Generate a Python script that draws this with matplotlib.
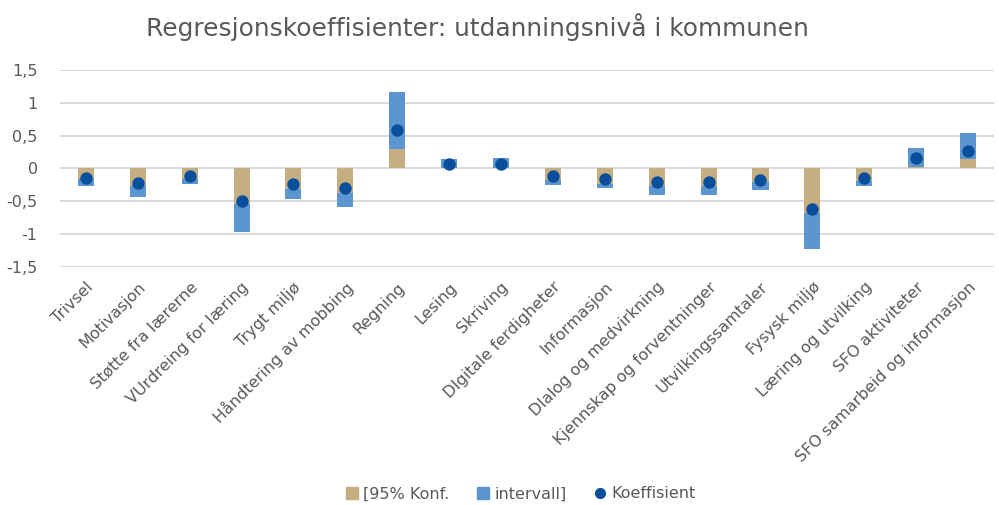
import matplotlib
matplotlib.use("Agg")
import matplotlib.pyplot as plt
import numpy as np
from matplotlib.lines import Line2D
from matplotlib.patches import Patch

categories = ["Trivsel", "Motivasjon", "Støtte fra lærerne", "VUrdreing for læring",
              "Trygt miljø", "Håndtering av mobbing", "Regning", "Lesing", "Skriving",
              "DIgitale ferdigheter", "Informasjon", "DIalog og medvirkning",
              "Kjennskap og forventninger", "Utvilkingssamtaler", "Fysysk miljø",
              "Læring og utvilking", "SFO aktiviteter", "SFO samarbeid og informasjon"]
# stacked as in the source chart: tan = first value, blue stacked on top
konf_lower = [-0.16, -0.27, -0.16, -0.54, -0.315, -0.366, 0.29, 0.01, 0.01,
              -0.17, -0.23, -0.265, -0.265, -0.20, -0.68, -0.19, 0.02, 0.137]
konf_upper = [-0.10, -0.17, -0.07, -0.43, -0.155, -0.224, 0.875, 0.127, 0.148,
              -0.074, -0.065, -0.132, -0.132, -0.13, -0.55, -0.07, 0.29, 0.40]
koeffisient = [-0.14, -0.22, -0.12, -0.49, -0.24, -0.29, 0.58, 0.07, 0.07,
               -0.12, -0.155, -0.21, -0.21, -0.17, -0.61, -0.14, 0.155, 0.265]
yticks = [-1.5, -1, -0.5, 0, 0.5, 1, 1.5]
ytick_labels = ["-1,5", "-1", "-0,5", "0", "0,5", "1", "1,5"]

TAN = "#c6ae83"
BLUE = "#5b96d0"
DOT = "#0a4f9c"
GREY = "#595959"
FONT = "DejaVu Sans"

fig = plt.figure(figsize=(9.99, 5.05), dpi=100)
ax = fig.add_axes([0.060, 0.4713, 0.935, 0.3901])

x = np.arange(len(categories))
ax.bar(x, konf_lower, width=0.31, color=TAN, zorder=2)
ax.bar(x, konf_upper, width=0.31, bottom=konf_lower, color=BLUE, zorder=2)
ax.scatter(x, koeffisient, s=80, color=DOT, zorder=3, linewidths=0)

ax.set_xlim(-0.5, len(categories) - 0.5)
ax.set_ylim(-1.5, 1.5)
ax.set_yticks(yticks)
ax.set_yticklabels(ytick_labels, fontsize=11.5, color=GREY, family=FONT)
ax.yaxis.grid(True, color="#d9d9d9", linewidth=1.4, zorder=0)
ax.set_axisbelow(True)
ax.tick_params(axis="y", length=0, pad=16)
ax.tick_params(axis="x", length=0, pad=9)
ax.set_xticks(x)
ax.set_xticklabels(categories, rotation=45, ha="right", rotation_mode="anchor",
                   fontsize=11.5, color=GREY, family=FONT)
for s in ax.spines.values():
    s.set_visible(False)

fig.text(0.478, 0.947, "Regresjonskoeffisienter: utdanningsnivå i kommunen",
         ha="center", va="center", fontsize=17.9, color=GREY, family=FONT)

handles = [Patch(color=TAN, label="[95% Konf."),
           Patch(color=BLUE, label="intervall]"),
           Line2D([], [], marker="o", linestyle="none", color=DOT, markersize=7,
                  label="Koeffisient")]
fig.legend(handles=handles, loc="center", bbox_to_anchor=(0.521, 0.022), ncol=3,
           frameon=False, prop={"family": FONT, "size": 11.5}, labelcolor=GREY,
           handlelength=0.8, handleheight=0.8, handletextpad=0.3, columnspacing=1.7)

fig.savefig("out.png", dpi=100)
